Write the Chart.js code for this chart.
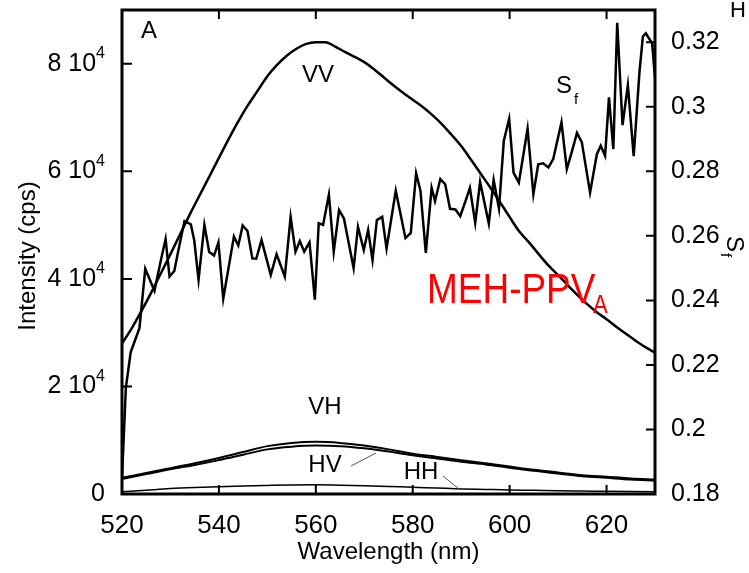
<!DOCTYPE html>
<html>
<head>
<meta charset="utf-8">
<script src="https://cdn.jsdelivr.net/npm/chart.js@4.4.0/dist/chart.umd.min.js"></script>
<style>
  html, body { margin: 0; padding: 0; background: #fff; }
  #wrap { width: 749px; height: 573px; }
</style>
</head>
<body>
<div id="wrap"><canvas id="spectrum" width="749" height="573"></canvas></div>
<script>
// VV intensity (cps), every 2 nm
const vvWavelength = [520, 522, 524, 526, 528, 530, 532, 534, 536, 538, 540, 542, 544, 546, 548, 550, 552, 554, 556, 558, 560, 562, 564, 566, 568, 570, 572, 574, 576, 578, 580, 582, 584, 586, 588, 590, 592, 594, 596, 598, 600, 602, 604, 606, 608, 610, 612, 614, 616, 618, 620, 622, 624, 626, 628, 630];
const vvIntensity = [28000, 30800, 34000, 37400, 41000, 44600, 48300, 52000, 55500, 59000, 62500, 66000, 69300, 72300, 75000, 77700, 79800, 81500, 82800, 83700, 84000, 84000, 83200, 82200, 81300, 80300, 79000, 77500, 76000, 74600, 73300, 72000, 70500, 68800, 66800, 64700, 62200, 59600, 57000, 54300, 51500, 48800, 46800, 44600, 42500, 40700, 38800, 37000, 35300, 33800, 32500, 31100, 29800, 28500, 27300, 26300];

// VH, HV, HH intensity (cps), every 5 nm
const polWavelength = [520, 525, 530, 535, 540, 545, 550, 555, 560, 565, 570, 575, 580, 585, 590, 595, 600, 605, 610, 615, 620, 625, 630];
const vhIntensity = [3000, 3900, 4800, 5700, 6700, 7800, 8900, 9500, 9700, 9500, 9000, 8300, 7500, 6900, 6300, 5700, 5100, 4500, 4000, 3500, 3200, 2900, 2700];
const hvIntensity = [2800, 3700, 4600, 5400, 6300, 7300, 8300, 8800, 9000, 8900, 8500, 7900, 7200, 6600, 6000, 5500, 4900, 4300, 3800, 3300, 3000, 2700, 2500];
const hhIntensity = [400, 700, 1000, 1200, 1350, 1500, 1600, 1680, 1700, 1650, 1550, 1400, 1250, 1100, 950, 850, 750, 680, 600, 550, 500, 450, 400];

// S_f ratio (right axis)
const sfWavelength = [520.0, 520.8, 521.8, 523.6, 524.8, 526.7, 528.1, 529.0, 529.8, 530.8, 531.7, 532.9, 534.2, 534.9, 535.8, 537.0, 538.0, 539.0, 539.9, 540.9, 543.1, 544.0, 544.9, 545.9, 546.9, 547.7, 548.8, 550.7, 551.9, 553.6, 554.8, 555.8, 556.7, 557.6, 558.7, 559.8, 560.6, 561.5, 562.7, 563.7, 564.8, 565.8, 567.8, 568.7, 569.9, 570.8, 571.7, 572.6, 573.7, 574.6, 576.5, 578.5, 579.6, 580.7, 581.6, 582.7, 583.9, 584.6, 585.7, 586.7, 587.7, 588.8, 589.8, 590.9, 591.8, 592.9, 593.9, 594.8, 595.7, 596.7, 597.8, 598.8, 599.9, 600.8, 601.9, 603.7, 604.9, 605.9, 606.9, 608.0, 609.0, 610.7, 611.8, 612.8, 613.9, 614.9, 616.6, 618.0, 618.8, 619.7, 620.5, 621.4, 622.2, 623.3, 624.4, 625.6, 626.8, 627.5, 628.1, 629.4, 630.0];
const sfValues = [0.185, 0.213, 0.224, 0.2314, 0.2498, 0.243, 0.253, 0.259, 0.2474, 0.2491, 0.256, 0.2646, 0.2636, 0.2587, 0.2464, 0.2634, 0.255, 0.2539, 0.258, 0.2405, 0.2598, 0.257, 0.2632, 0.2615, 0.253, 0.2529, 0.2587, 0.2479, 0.2543, 0.2474, 0.2659, 0.2551, 0.2584, 0.2551, 0.258, 0.2402, 0.2639, 0.2634, 0.2728, 0.2551, 0.268, 0.2654, 0.25, 0.2628, 0.2556, 0.2618, 0.2525, 0.2649, 0.2659, 0.2561, 0.274, 0.2593, 0.2609, 0.2794, 0.2739, 0.2547, 0.2749, 0.2708, 0.2776, 0.276, 0.2684, 0.2682, 0.2661, 0.2708, 0.2749, 0.264, 0.2767, 0.2703, 0.2638, 0.2773, 0.2684, 0.2895, 0.2963, 0.2796, 0.2765, 0.2932, 0.2729, 0.2822, 0.2825, 0.2812, 0.2838, 0.2952, 0.2807, 0.2859, 0.2919, 0.289, 0.2734, 0.2853, 0.2879, 0.2848, 0.3029, 0.2869, 0.326, 0.2943, 0.3067, 0.2847, 0.3109, 0.3218, 0.3228, 0.3197, 0.309];

// tick labels
const xTicks = [520, 540, 560, 580, 600, 620];
const intensityTicks = [0, 20000, 40000, 60000, 80000];
const sfTicks = [0.18, 0.2, 0.22, 0.24, 0.26, 0.28, 0.3, 0.32];

const FONT = "'Liberation Sans', Arial, Helvetica, sans-serif";

function toPoints(xs, ys) {
  return xs.map((x, i) => ({ x: x, y: ys[i] }));
}

// keep the plot box where the reference has it
function noScalePadding(scale) {
  scale.paddingTop = 0;
  scale.paddingBottom = 0;
  scale.paddingLeft = 0;
  scale.paddingRight = 0;
}

// frame, inward ticks, left labels with exponent, titles and annotations
const decorPlugin = {
  id: "decor",
  afterDraw(chart) {
    const ctx = chart.ctx;
    const area = chart.chartArea;
    const xs = chart.scales.x;
    const yl = chart.scales.y;
    const yr = chart.scales.y1;
    ctx.save();
    ctx.strokeStyle = "#000";
    ctx.fillStyle = "#000";

    // ticks
    ctx.lineWidth = 2;
    ctx.beginPath();
    xTicks.forEach((v) => {
      const px = xs.getPixelForValue(v);
      ctx.moveTo(px, area.bottom);
      ctx.lineTo(px, area.bottom - 9);
      ctx.moveTo(px, area.top);
      ctx.lineTo(px, area.top + 9);
    });
    intensityTicks.forEach((v) => {
      const py = yl.getPixelForValue(v);
      ctx.moveTo(area.left, py);
      ctx.lineTo(area.left + 10, py);
    });
    sfTicks.forEach((v) => {
      const py = yr.getPixelForValue(v);
      ctx.moveTo(area.right, py);
      ctx.lineTo(area.right - 9, py);
    });
    ctx.stroke();

    // frame
    ctx.lineWidth = 3;
    ctx.strokeRect(area.left, area.top, area.right - area.left, area.bottom - area.top);

    // left labels: "8 10^4"
    const rightEdge = area.left - 17;
    ctx.textBaseline = "middle";
    intensityTicks.forEach((v) => {
      const py = yl.getPixelForValue(v);
      if (v === 0) {
        ctx.font = "25px " + FONT;
        ctx.textAlign = "right";
        ctx.fillText("0", rightEdge, py);
        return;
      }
      ctx.font = "16px " + FONT;
      const supW = ctx.measureText("4").width;
      ctx.textAlign = "left";
      ctx.fillText("4", rightEdge - supW, py - 10);
      ctx.font = "25px " + FONT;
      ctx.textAlign = "right";
      ctx.fillText(v / 10000 + " 10", rightEdge - supW, py);
    });

    // axis titles
    ctx.font = "24px " + FONT;
    ctx.textAlign = "center";
    ctx.fillText("Wavelength (nm)", (area.left + area.right) / 2, 552);

    ctx.save();
    ctx.translate(28, 256);
    ctx.rotate(-Math.PI / 2);
    ctx.fillText("Intensity (cps)", 0, 0);
    ctx.restore();

    ctx.save();
    ctx.translate(734, 244);
    ctx.rotate(Math.PI / 2);
    ctx.textAlign = "left";
    ctx.font = "24px " + FONT;
    ctx.fillText("S", -8, 0);
    ctx.font = "15px " + FONT;
    ctx.fillText("f", 9, 9);
    ctx.restore();

    // curve labels
    ctx.textAlign = "center";
    ctx.font = "24px " + FONT;
    ctx.fillText("A", 149, 31);
    ctx.fillText("VV", 318, 75);
    ctx.fillText("VH", 325, 407);
    ctx.fillText("HV", 325, 465);
    ctx.fillText("HH", 421, 472);
    ctx.textAlign = "left";
    ctx.fillText("S", 556, 86);
    ctx.font = "15px " + FONT;
    ctx.fillText("f", 574, 100);

    // leader lines
    ctx.lineWidth = 1;
    ctx.strokeStyle = "#555";
    ctx.beginPath();
    ctx.moveTo(351, 466);
    ctx.lineTo(376, 453);
    ctx.moveTo(443, 476);
    ctx.lineTo(459, 489);
    ctx.stroke();

    // sample label
    ctx.fillStyle = "#ff0000";
    ctx.textBaseline = "alphabetic";
    ctx.textAlign = "left";
    ctx.save();
    ctx.translate(427, 303);
    ctx.scale(0.88, 1);
    ctx.font = "42px " + FONT;
    ctx.fillText("MEH-PPV", 0, 0);
    ctx.restore();
    ctx.save();
    ctx.translate(593, 313);
    ctx.scale(0.88, 1);
    ctx.font = "25px " + FONT;
    ctx.fillText("A", 0, 0);
    ctx.restore();

    // cut-off glyph in the top-right corner
    ctx.fillStyle = "#000";
    ctx.font = "22px " + FONT;
    ctx.fillText("H", 730, 17);

    ctx.restore();
  },
};

const ctx = document.getElementById("spectrum").getContext("2d");
new Chart(ctx, {
  type: "line",
  data: {
    datasets: [
      {
        label: "VV",
        data: toPoints(vvWavelength, vvIntensity),
        yAxisID: "y",
        borderColor: "#000",
        borderWidth: 2.5,
        cubicInterpolationMode: "monotone",
      },
      {
        label: "VH",
        data: toPoints(polWavelength, vhIntensity),
        yAxisID: "y",
        borderColor: "#000",
        borderWidth: 2,
        cubicInterpolationMode: "monotone",
      },
      {
        label: "HV",
        data: toPoints(polWavelength, hvIntensity),
        yAxisID: "y",
        borderColor: "#000",
        borderWidth: 2,
        cubicInterpolationMode: "monotone",
      },
      {
        label: "HH",
        data: toPoints(polWavelength, hhIntensity),
        yAxisID: "y",
        borderColor: "#000",
        borderWidth: 1.5,
        cubicInterpolationMode: "monotone",
      },
      {
        label: "Sf",
        data: toPoints(sfWavelength, sfValues),
        yAxisID: "y1",
        borderColor: "#000",
        borderWidth: 2.5,
        tension: 0,
      },
    ],
  },
  options: {
    responsive: false,
    animation: false,
    devicePixelRatio: 1,
    layout: { padding: { top: 10, left: 0, right: 0, bottom: 0 } },
    elements: { point: { radius: 0 } },
    plugins: {
      legend: { display: false },
      tooltip: { enabled: false },
    },
    scales: {
      x: {
        type: "linear",
        min: 520,
        max: 630,
        grid: { display: false },
        border: { display: false },
        afterBuildTicks: (scale) => {
          scale.ticks = xTicks.map((v) => ({ value: v }));
        },
        afterFit: (scale) => {
          scale.height = 79;
          noScalePadding(scale);
        },
        ticks: {
          color: "#000",
          padding: 8,
          maxRotation: 0,
          font: { family: FONT, size: 26 },
        },
      },
      y: {
        position: "left",
        min: 0,
        max: 90000,
        grid: { display: false },
        border: { display: false },
        afterBuildTicks: (scale) => {
          scale.ticks = intensityTicks.map((v) => ({ value: v }));
        },
        afterFit: (scale) => {
          scale.width = 122;
          noScalePadding(scale);
        },
        ticks: { display: false },
      },
      y1: {
        position: "right",
        min: 0.18,
        max: 0.33,
        grid: { display: false },
        border: { display: false },
        afterBuildTicks: (scale) => {
          scale.ticks = sfTicks.map((v) => ({ value: v }));
        },
        afterFit: (scale) => {
          scale.width = 94;
          noScalePadding(scale);
        },
        ticks: {
          color: "#000",
          padding: 8,
          font: { family: FONT, size: 25 },
          callback: (v) => String(+v.toFixed(2)),
        },
      },
    },
  },
  plugins: [decorPlugin],
});
</script>
</body>
</html>
